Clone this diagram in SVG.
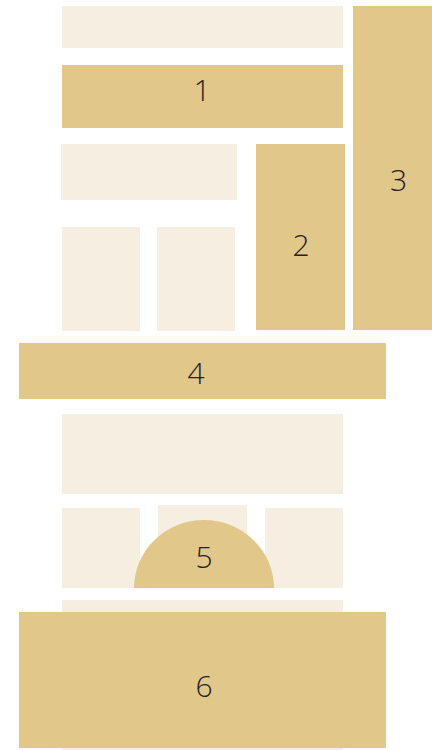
<svg xmlns="http://www.w3.org/2000/svg" width="432" height="750" viewBox="0 0 432 750">
<style>
.l{fill:#F6EEE0}
.g{fill:#E2C78A}
text{font-family:"Open Sans","DejaVu Sans",sans-serif;font-size:30px;font-weight:300;fill:#222;text-anchor:middle}
</style>
<rect width="432" height="750" fill="#fff"/>
<g id="bg">
<rect class="l" x="62" y="6" width="281" height="42"/>
<rect class="l" x="61" y="144" width="176" height="56"/>
<rect class="l" x="62" y="227" width="78" height="104"/>
<rect class="l" x="157" y="227" width="78" height="104"/>
<rect class="l" x="62" y="414" width="281" height="80"/>
<rect class="l" x="62" y="508" width="78" height="80"/>
<rect class="l" x="158" y="505" width="89" height="83"/>
<rect class="l" x="265" y="508" width="78" height="80"/>
<rect class="l" x="62" y="600" width="281" height="150"/>
</g>
<g id="n1"><rect class="g" x="62" y="65" width="281" height="63"/><text x="202" y="101">1</text></g>
<g id="n2"><rect class="g" x="256" y="144" width="89" height="186"/><text x="301" y="256">2</text></g>
<g id="n3"><rect class="g" x="353" y="6" width="79" height="324"/><text x="398.5" y="191">3</text></g>
<g id="n4"><rect class="g" x="19" y="343" width="367" height="56"/><text x="196" y="384">4</text></g>
<g id="n5"><path class="g" d="M134 588 A70 68 0 0 1 274 588 Z"/><text x="204" y="568">5</text></g>
<g id="n6"><rect class="g" x="19" y="612" width="367" height="136"/><text x="204" y="697">6</text></g>
<g id="connectors"/>
</svg>
